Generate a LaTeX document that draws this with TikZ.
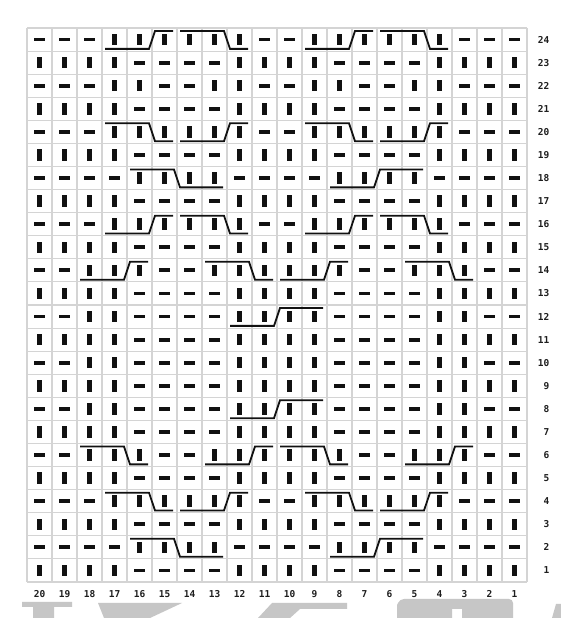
\documentclass[tikz,border=0pt]{standalone}
\usepackage{fontspec}
\usepackage{tikz}
\usetikzlibrary{positioning, calc}
\newfontfamily\chartnum{DejaVu Sans Mono}
\definecolor{chartGrid}{HTML}{D4D4D4}
\definecolor{chartInk}{HTML}{111111}
\definecolor{chartNum}{HTML}{1E1E1E}
\definecolor{chartMark}{HTML}{C6C6C6}
% cell size and lower left corner of the chart
\def\cw{25}
\def\rh{23.0833}
\def\gx{27}
\def\gy{36}

\begin{document}
\begin{tikzpicture}[
  x=1pt, y=1pt,
  every node/.style={inner sep=0pt},
  sym k/.style={rectangle, fill=chartInk, minimum width=4.6pt, minimum height=11.5pt},
  sym p/.style={rectangle, fill=chartInk, minimum width=11.5pt, minimum height=3.9pt},
  gridline/.style={draw=chartGrid, line width=1.1pt},
  cable/.style={draw=chartInk, line width=1.8pt},
  num/.style={font=\chartnum\bfseries\fontsize{9.5}{11}\selectfont, text=chartNum},
]
\useasboundingbox (0,0) rectangle (561,618);
\fill[white] (0,0) rectangle (561,618);

% === WATERMARK (cut off) ===
\fill[chartMark] (22,16) -- (72,16) -- (72,11) -- (54,11) -- (54,0) -- (33,0) -- (33,11) -- (22,11) -- cycle;
\fill[chartMark] (98,15) -- (182,15) -- (150,0) -- (104,0) -- cycle;
\fill[chartMark] (258,0) -- (272,15) -- (347,15) -- (347,9) -- (300,9) -- (290,0) -- cycle;
\fill[chartMark] (397,0) -- (397,13) [rounded corners=4pt] -- (400,19) -- (513,19) [sharp corners] -- (513,0) -- (462,0) -- (462,9) -- (452,9) -- (452,0) -- cycle;
\fill[chartMark] (552,0) -- (561,0) -- (561,14) -- (556,14) -- cycle;

% === GRID ===
\foreach \i in {0,...,20}
  \draw[gridline] ({\gx+\cw*\i},\gy) -- ({\gx+\cw*\i},{\gy+24*\rh});
\foreach \r in {0,...,24}
  \draw[gridline] (\gx,{\gy+\rh*\r}) -- ({\gx+20*\cw},{\gy+\rh*\r});

% === STITCHES (k = knit, p = purl) ===
\foreach \rows/\pat in {
  {1,3,...,23}/{k,k,k,k,p,p,p,p,k,k,k,k,p,p,p,p,k,k,k,k},
  {4,16,20,24}/{p,p,p,k,k,k,k,k,k,p,p,k,k,k,k,k,k,p,p,p},
  {22}/{p,p,p,k,k,p,p,k,k,p,p,k,k,p,p,k,k,p,p,p},
  {2,18}/{p,p,p,p,k,k,k,k,p,p,p,p,k,k,k,k,p,p,p,p},
  {6,14}/{p,p,k,k,k,p,p,k,k,k,k,k,k,p,p,k,k,k,p,p},
  {8,10,12}/{p,p,k,k,p,p,p,p,k,k,k,k,p,p,p,p,k,k,p,p}}
  \foreach \r in \rows
    \foreach \s [count=\i from 0] in \pat
      \node[sym \s] (s\r-\i) at ({\gx+\cw*(\i+0.5)},{\gy+\rh*(\r-0.5)}) {};

% === CABLES: row / first cell / cells before cross / cells after / up or down ===
\foreach \rows/\i/\a/\b/\d in {
  {16,24}/3/2/1/1, {16,24}/6/2/1/-1, {16,24}/11/2/1/1, {16,24}/14/2/1/-1,
  {4,20}/3/2/1/-1, {4,20}/6/2/1/1, {4,20}/11/2/1/-1, {4,20}/14/2/1/1,
  {2,18}/4/2/2/-1, {2,18}/12/2/2/1,
  {14}/2/2/1/1, {14}/7/2/1/-1, {14}/10/2/1/1, {14}/15/2/1/-1,
  {6}/2/2/1/-1, {6}/7/2/1/1, {6}/10/2/1/-1, {6}/15/2/1/1,
  {8,12}/8/2/2/1}
  \foreach \r in \rows {
    \pgfmathsetmacro\xs{\gx+\cw*\i+3}
    \pgfmathsetmacro\xm{\gx+\cw*(\i+\a)}
    \pgfmathsetmacro\xe{\gx+\cw*(\i+\a+\b)-4}
    \pgfmathsetmacro\ya{\d>0 ? \gy+\rh*(\r-1)+2.2 : \gy+\rh*\r-3}
    \pgfmathsetmacro\yb{\d>0 ? \gy+\rh*\r-3 : \gy+\rh*(\r-1)+2.2}
    \draw[cable] (\xs,\ya) -- (\xm-3,\ya) -- (\xm+3,\yb) -- (\xe,\yb);
  }

% === ROW AND COLUMN NUMBERS ===
\foreach \r in {1,...,24}
  \node[num, anchor=east] (row\r) at (549.5,{\gy+\rh*(\r-0.5)}) {\r};
\foreach \c [count=\i from 0] in {20,19,...,1}
  \node[num] (col\c) at ({\gx+\cw*(\i+0.5)},24) {\c};

\end{tikzpicture}
\end{document}
